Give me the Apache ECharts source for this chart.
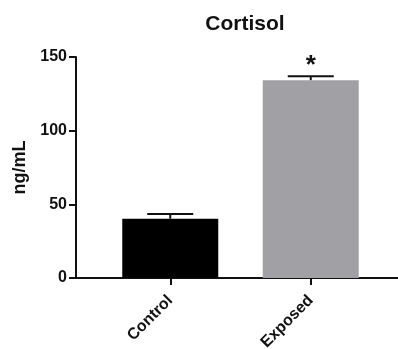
<!DOCTYPE html>
<html><head><meta charset="utf-8">
<script src="https://cdn.jsdelivr.net/npm/echarts@6/dist/echarts.min.js"></script>
<style>html,body{margin:0;padding:0;background:#fff}#c{width:398px;height:349px}</style>
</head><body><div id="c"></div>
<script>
const categories = ['Control', 'Exposed'];
const means = [40.2, 134.3];
const errors = [3.3, 2.6];
const significance = ['', '*'];
const barColors = ['#000000', '#a1a0a5'];
const yTicks = [0, 50, 100, 150];

const FONT = '"Liberation Sans", Arial, Helvetica, sans-serif';
const chart = echarts.init(document.getElementById('c'), null, {renderer: 'canvas'});
const gridTop = 57, gridBottom = 71;
chart.setOption({
  animation: false,
  title: {text: 'Cortisol', left: 240, top: 9, textAlign: 'center',
    textStyle: {fontFamily: FONT, fontWeight: 'bold', fontSize: 21, color: '#111'}},
  grid: [
    {left: 76, right: 0, top: gridTop, bottom: gridBottom, containLabel: false, outerBoundsMode: 'none'},
    {left: 100, right: 17, top: gridTop, bottom: gridBottom, containLabel: false, outerBoundsMode: 'none'}
  ],
  xAxis: [
    {type: 'value', gridIndex: 0, min: 0, max: 1, axisLine: {onZero: false, lineStyle: {color: '#111', width: 2}},
     axisTick: {show: false}, axisLabel: {show: false}, splitLine: {show: false}},
    {type: 'category', gridIndex: 1, data: categories,
     axisLine: {show: false},
     axisTick: {show: true, alignWithLabel: true, length: 7, lineStyle: {color: '#111', width: 2}},
     axisLabel: {rotate: 45, margin: 20, fontFamily: FONT, fontWeight: 'bold', fontSize: 16, color: '#111'}}
  ],
  yAxis: [
    {type: 'value', gridIndex: 0, min: yTicks[0], max: yTicks[yTicks.length - 1], interval: 50,
     name: 'ng/mL', nameLocation: 'middle', nameGap: 43,
     nameTextStyle: {fontFamily: FONT, fontWeight: 'bold', fontSize: 18, color: '#111'},
     axisLine: {show: true, lineStyle: {color: '#111', width: 2}},
     axisTick: {show: true, length: 7, lineStyle: {color: '#111', width: 2}},
     axisLabel: {margin: 9, fontFamily: FONT, fontWeight: 'bold', fontSize: 16, color: '#111'},
     splitLine: {show: false}},
    {type: 'value', gridIndex: 1, min: yTicks[0], max: yTicks[yTicks.length - 1], show: false, splitLine: {show: false}}
  ],
  series: [
    {type: 'bar', xAxisIndex: 1, yAxisIndex: 1, barWidth: 96,
     data: means.map((v, i) => ({value: v, itemStyle: {color: barColors[i]}}))},
    {type: 'custom', xAxisIndex: 1, yAxisIndex: 1, z: 5,
     data: means.map((v, i) => [i, v, v + errors[i]]),
     renderItem: function (params, api) {
       const i = api.value(0);
       const p0 = api.coord([i, api.value(1)]);
       const p1 = api.coord([i, api.value(2)]);
       const hw = 23;
       const children = [
         {type: 'line', shape: {x1: p0[0], y1: p0[1], x2: p1[0], y2: p1[1]}, style: {stroke: '#111', lineWidth: 2}},
         {type: 'line', shape: {x1: p1[0] - hw, y1: p1[1], x2: p1[0] + hw, y2: p1[1]}, style: {stroke: '#111', lineWidth: 2}}
       ];
       if (significance[i]) {
         children.push({type: 'text', x: p1[0], y: p1[1] + 3,
           style: {text: significance[i], fontFamily: FONT, fontWeight: 'bold', fontSize: 26, fill: '#111',
                   align: 'center', verticalAlign: 'bottom'}});
       }
       return {type: 'group', children: children};
     }}
  ]
});
</script></body></html>
